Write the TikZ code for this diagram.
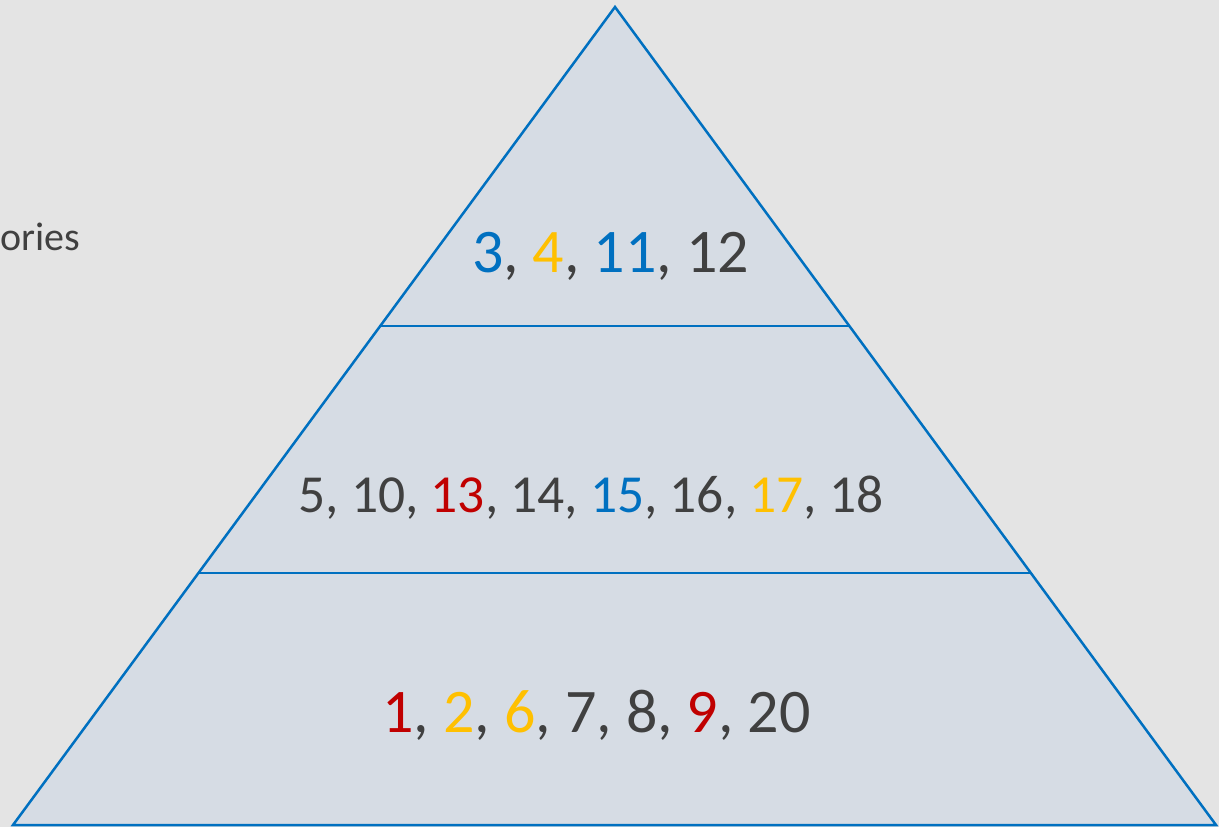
\documentclass[tikz,border=0pt]{standalone}
\usepackage{fontspec}
\setmainfont{Carlito}
\definecolor{bg}{HTML}{E4E4E4}
\definecolor{pfill}{HTML}{D6DCE4}
\definecolor{pline}{HTML}{0070C0}
\definecolor{tgrey}{HTML}{404040}
\definecolor{tblue}{HTML}{0070C0}
\definecolor{tyel}{HTML}{FFC000}
\definecolor{tred}{HTML}{C00000}
\begin{document}
\begin{tikzpicture}[x=1pt,y=-1pt,
  edge/.style={draw=pline,line width=2.5pt},
  lbl/.style={text=tgrey,inner sep=0pt,anchor=base},
  big/.style={font=\fontsize{62}{62}\selectfont},
  mid/.style={font=\fontsize{53.5}{53.5}\selectfont}]
\fill[bg] (0,0) rectangle (1219,827);
\useasboundingbox (0,0) rectangle (1219,827);
\coordinate (apex) at (615,7);
\coordinate (bl) at (13,825);
\coordinate (br) at (1216,825);
\coordinate (l1) at (380.2,326);
\coordinate (r1) at (849.8,326);
\coordinate (l2) at (198.5,573);
\coordinate (r2) at (1031.5,573);
\filldraw[fill=pfill,edge,line join=miter] (apex) -- (br) -- (bl) -- cycle;
\draw[edge] (l1) -- (r1);
\draw[edge] (l2) -- (r2);
\node[lbl,big] (top) at (610.5,272) {\textcolor{tblue}{3}, \textcolor{tyel}{4}, \textcolor{tblue}{11}, 12};
\node[lbl,mid] (middle) at (591,512) {5, 10, \textcolor{tred}{13}, 14, \textcolor{tblue}{15}, 16, \textcolor{tyel}{17}, 18};
\node[lbl,big] (bottom) at (596.5,732) {\textcolor{tred}{1}, \textcolor{tyel}{2}, \textcolor{tyel}{6}, 7, 8, \textcolor{tred}{9}, 20};
\node[text=tgrey,inner sep=0pt,anchor=base west,font=\fontsize{40}{40}\selectfont] (side) at (0,250) {ories};
\end{tikzpicture}
\end{document}
